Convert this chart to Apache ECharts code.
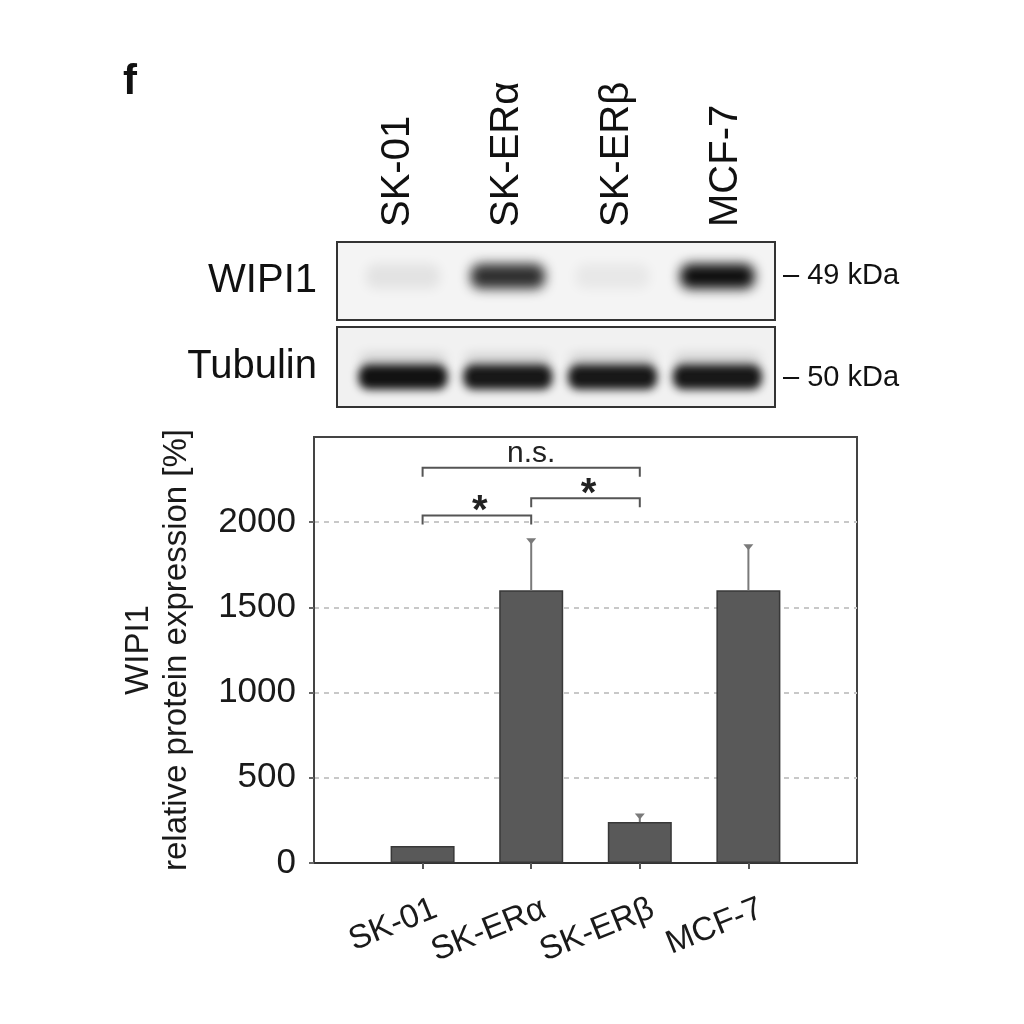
<!DOCTYPE html>
<html><head><meta charset="utf-8">
<script src="https://cdn.jsdelivr.net/npm/echarts@6/dist/echarts.min.js"></script>
<style>html,body{margin:0;padding:0;background:#fff}#c{width:1024px;height:1024px}</style>
</head><body><div id="c"></div>
<script>
// ---- data ----
const categories = ['SK-01', 'SK-ERα', 'SK-ERβ', 'MCF-7'];
const values = [100, 1600, 240, 1600];
const errors = [0, 300, 45, 265];
const sigFrom = [0, 1, 0];
const sigTo = [1, 2, 2];
const sigLevel = [2040, 2140, 2320];
const sigText = ['*', '*', 'n.s.'];
const wipiBand = [0.07, 0.84, 0.05, 0.98];
const tubulinBand = [0.97, 0.94, 0.94, 0.94];
const blotRows = ['WIPI1', 'Tubulin'];
const markers = ['– 49 kDa', '– 50 kDa'];
const panelLetter = 'f';
const yName = 'WIPI1';
const yName2 = 'relative protein expression [%]';

const FONT = 'Liberation Sans, Arial, Helvetica, sans-serif';
const padCats = [''].concat(categories, ['']);
const barData = ['-'].concat(values, ['-']);
const errData = values.map((v, i) => [i + 1, v, errors[i]]);
const sigData = sigFrom.map((f, i) => [f + 1, sigTo[i] + 1, sigLevel[i]]);

function renderErr(params, api) {
  const x = api.value(0), v = api.value(1), e = api.value(2);
  if (!e) return null;
  const p0 = api.coord([x, v]);
  const p1 = api.coord([x, v + e]);
  return {type: 'group', children: [
    {type: 'line', shape: {x1: p0[0], y1: p0[1], x2: p1[0], y2: p1[1]}, style: {stroke: '#7a7a7a', lineWidth: 2}},
    {type: 'polygon', shape: {points: [[p1[0] - 5, p1[1] - 1], [p1[0] + 5, p1[1] - 1], [p1[0], p1[1] + 5]]}, style: {fill: '#7a7a7a'}}
  ]};
}

function renderSig(params, api) {
  const a = api.coord([api.value(0), api.value(2)]);
  const b = api.coord([api.value(1), api.value(2)]);
  const t = sigText[params.dataIndex];
  const star = t === '*';
  return {type: 'group', children: [
    {type: 'polyline', shape: {points: [[a[0], a[1] + 9], [a[0], a[1]], [b[0], b[1]], [b[0], b[1] + 9]]},
     style: {stroke: '#555', lineWidth: 2, fill: null}},
    {type: 'text', style: {text: t, x: (a[0] + b[0]) / 2 + (star ? 3 : 0), y: star ? a[1] - 3 : a[1] + 1,
      align: 'center', verticalAlign: star ? 'middle' : 'bottom',
      fontSize: star ? 40 : 30, fontWeight: star ? 'bold' : 'normal', fontFamily: FONT, fill: '#222'}}
  ]};
}

// blurred band: opaque shape drawn far left, only its blurred shadow lands in the lane
const OFF = 3000;
function blurRect(cx, cy, w, h, alpha, blur) {
  return {type: 'rect', shape: {x: cx - w / 2 - OFF, y: cy - h / 2, width: w, height: h, r: h / 2.5},
    style: {fill: '#0a0a0a', shadowBlur: blur, shadowColor: 'rgba(10,10,10,' + alpha + ')', shadowOffsetX: OFF, shadowOffsetY: 0}};
}
function bandRenderer(frac, h, yFrac, blur, smear) {
  return function (params, api) {
    const c = api.coord([api.value(0), yFrac]);
    const w = api.size([1, 0])[0] * frac;
    const a = api.value(1);
    const kids = [];
    if (smear) kids.push(blurRect(c[0], c[1] - h * 0.7, w * 0.95, h * 0.45, a * 0.15, 12));
    kids.push(blurRect(c[0], c[1], w, h, a, blur));
    return {type: 'group', children: kids};
  };
}

const chart = echarts.init(document.getElementById('c'), null, {renderer: 'canvas'});
chart.setOption({
  backgroundColor: '#ffffff',
  animation: false,
  title: {text: panelLetter, left: 118, top: 56, textStyle: {fontSize: 42, fontWeight: 'bold', fontFamily: FONT, color: '#111'}},
  grid: [
    {left: 314, top: 437, width: 543, height: 426, show: true, borderColor: '#444', borderWidth: 2, backgroundColor: 'transparent'},
    {left: 337, top: 242, width: 438, height: 78, show: true, borderColor: '#333', borderWidth: 2, backgroundColor: '#f4f4f4'},
    {left: 337, top: 327, width: 438, height: 80, show: true, borderColor: '#333', borderWidth: 2, backgroundColor: '#f1f1f1'},
    {left: 343, top: 242, width: 438, height: 78, show: false}
  ],
  xAxis: [
    {gridIndex: 0, type: 'category', data: padCats, boundaryGap: false,
     axisLine: {lineStyle: {color: '#333', width: 2}},
     axisTick: {show: true, inside: false, length: 6, interval: (i) => i > 0 && i < padCats.length - 1, lineStyle: {color: '#555', width: 2}},
     axisLabel: {rotate: 22, margin: 50, fontSize: 33, fontFamily: FONT, color: '#1a1a1a', interval: 0, padding: [0, -14, 0, 0]}},
    {gridIndex: 3, type: 'category', data: categories, position: 'top', boundaryGap: true,
     axisLine: {show: false}, axisTick: {show: false},
     axisLabel: {rotate: 90, margin: 15, fontSize: 40, fontFamily: FONT, color: '#111', interval: 0}},
    {gridIndex: 2, type: 'category', data: categories, boundaryGap: true, show: false},
    {gridIndex: 1, type: 'value', min: -0.63, max: 3.55, show: false},
    {gridIndex: 2, type: 'value', min: -0.63, max: 3.55, show: false}
  ],
  yAxis: [
    {gridIndex: 0, type: 'value', min: 0, max: 2500, interval: 500,
     name: '{a|' + yName + '}\n{b|' + yName2 + '}', nameLocation: 'middle', nameRotate: 90, nameGap: 119,
     nameTextStyle: {rich: {a: {fontSize: 33, lineHeight: 40, fontFamily: FONT, color: '#1a1a1a'}, b: {fontSize: 33, lineHeight: 36, fontFamily: FONT, color: '#1a1a1a'}}},
     axisLine: {show: true, lineStyle: {color: '#444', width: 2}},
     axisTick: {show: true, inside: false, length: 5, lineStyle: {color: '#666', width: 2}},
     axisLabel: {fontSize: 35, fontFamily: FONT, color: '#1a1a1a', margin: 18, showMaxLabel: false, formatter: (v) => String(v)},
     splitLine: {show: true, showMinLine: false, showMaxLine: false, lineStyle: {type: [5, 5], color: '#c8c8c8', width: 2}}},
    {gridIndex: 1, type: 'value', min: 0, max: 1, name: blotRows[0], nameLocation: 'middle', nameRotate: 0, nameGap: 20,
     nameTextStyle: {fontSize: 40, fontFamily: FONT, color: '#111'},
     axisLine: {show: false}, axisTick: {show: false}, axisLabel: {show: false}, splitLine: {show: false}},
    {gridIndex: 1, type: 'value', min: 0, max: 1, position: 'right', name: '{m|' + markers[0] + '}\n{s| }', nameLocation: 'middle', nameRotate: 0, nameGap: 8,
     nameTextStyle: {rich: {m: {fontSize: 29, lineHeight: 32, fontFamily: FONT, color: '#111'}, s: {fontSize: 8, lineHeight: 10}}},
     axisLine: {show: false}, axisTick: {show: false}, axisLabel: {show: false}, splitLine: {show: false}},
    {gridIndex: 2, type: 'value', min: 0, max: 1, name: blotRows[1], nameLocation: 'middle', nameRotate: 0, nameGap: 20,
     nameTextStyle: {fontSize: 40, fontFamily: FONT, color: '#111'},
     axisLine: {show: false}, axisTick: {show: false}, axisLabel: {show: false}, splitLine: {show: false}},
    {gridIndex: 2, type: 'value', min: 0, max: 1, position: 'right', name: '{s| }\n{m|' + markers[1] + '}', nameLocation: 'middle', nameRotate: 0, nameGap: 8,
     nameTextStyle: {rich: {m: {fontSize: 29, lineHeight: 32, fontFamily: FONT, color: '#111'}, s: {fontSize: 8, lineHeight: 22}}},
     axisLine: {show: false}, axisTick: {show: false}, axisLabel: {show: false}, splitLine: {show: false}},
    {gridIndex: 3, type: 'value', min: 0, max: 1, show: false}
  ],
  series: [
    {type: 'bar', xAxisIndex: 0, yAxisIndex: 0, data: barData, barWidth: 64,
     itemStyle: {color: '#595959', borderColor: '#383838', borderWidth: 1.5}, z: 3},
    {type: 'custom', xAxisIndex: 0, yAxisIndex: 0, data: errData, renderItem: renderErr, encode: {x: 0, y: 1}, z: 4},
    {type: 'custom', xAxisIndex: 0, yAxisIndex: 0, data: sigData, renderItem: renderSig, encode: {x: 0, y: 2}, z: 5, clip: false},
    {type: 'custom', xAxisIndex: 3, yAxisIndex: 1, data: wipiBand.map((v, i) => [i, v]), renderItem: bandRenderer(0.71, 25, 0.56, 12, false), encode: {x: 0}, z: 3, clip: false},
    {type: 'custom', xAxisIndex: 4, yAxisIndex: 3, data: tubulinBand.map((v, i) => [i, v]), renderItem: bandRenderer(0.85, 25, 0.375, 8, true), encode: {x: 0}, z: 3, clip: false}
  ]
});
</script></body></html>
